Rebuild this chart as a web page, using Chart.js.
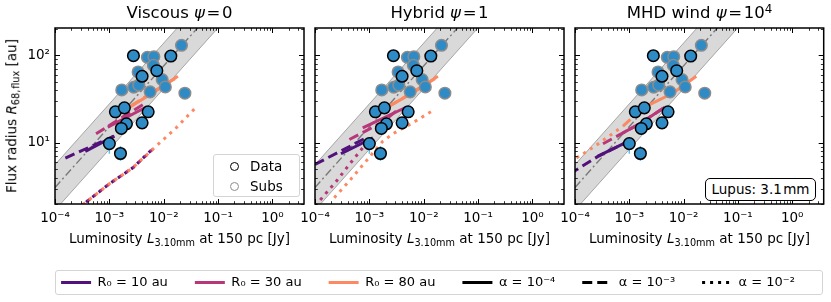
<!DOCTYPE html>
<html><head><meta charset="utf-8">
<script src="https://cdn.jsdelivr.net/npm/chart.js@4.4.1/dist/chart.umd.min.js"></script>
<style>
html,body{margin:0;padding:0;background:#fff;}
#wrap{position:relative;width:831px;height:302px;overflow:hidden;font-family:'DejaVu Sans',sans-serif;color:#000;}
canvas{position:absolute;}
.t{position:absolute;white-space:nowrap;line-height:1;}
.title{font-size:16.5px;top:5px;transform:translateX(-50%);}
.xl{font-size:13.5px;top:232px;transform:translateX(-50%);}
.yl{font-size:13.5px;left:12px;top:116px;transform:translate(-50%,-50%) rotate(-90deg);}
sub{font-size:0.72em;vertical-align:-0.28em;line-height:0;}
sup{font-size:0.72em;vertical-align:0.45em;line-height:0;}
.leg1{position:absolute;left:213px;top:154px;width:87px;height:43px;border:1px solid #d4d4d4;border-radius:3px;background:rgba(255,255,255,0.85);box-sizing:border-box;}
.mk{position:absolute;width:7px;height:7px;border-radius:50%;background:#fff;}
.lt{position:absolute;font-size:13.5px;line-height:1;}
.lupus{position:absolute;left:705px;top:178px;width:111px;height:23px;border:1px solid #000;border-radius:5px;background:#fff;box-sizing:border-box;font-size:13.5px;line-height:21px;text-align:center;}
.leg2{position:absolute;left:55px;top:270px;width:768px;height:25px;border:1px solid #d4d4d4;border-radius:3px;box-sizing:border-box;}
</style></head>
<body><div id="wrap">
<canvas id="p0" width="831" height="262" style="left:0;top:0"></canvas>
<canvas id="p1" width="831" height="262" style="left:0;top:0"></canvas>
<canvas id="p2" width="831" height="262" style="left:0;top:0"></canvas>
<div class="leg2"></div>
<canvas id="lg" width="800" height="80" style="left:28px;top:249px"></canvas>

<div class="t title" style="left:179.5px">Viscous <i>ψ</i>&#8202;=&#8202;0</div>
<div class="t title" style="left:439.5px">Hybrid <i>ψ</i>&#8202;=&#8202;1</div>
<div class="t title" style="left:699.5px">MHD wind <i>ψ</i>&#8202;=&#8202;10<sup>4</sup></div>
<div class="t xl" style="left:179.5px">Luminosity <i>L</i><sub>3.10mm</sub> at 150 pc [Jy]</div>
<div class="t xl" style="left:439.5px">Luminosity <i>L</i><sub>3.10mm</sub> at 150 pc [Jy]</div>
<div class="t xl" style="left:699.5px">Luminosity <i>L</i><sub>3.10mm</sub> at 150 pc [Jy]</div>
<div class="t yl">Flux radius <i>R</i><sub>68,&#8202;flux</sub> [au]</div>

<div class="leg1">
  <div class="mk" style="left:16px;top:7px;border:1.5px solid #000"></div>
  <div class="lt" style="left:36px;top:5px">Data</div>
  <div class="mk" style="left:16px;top:27px;border:1.5px solid #8c8c8c"></div>
  <div class="lt" style="left:36px;top:25px">Subs</div>
</div>
<div class="lupus">Lupus: 3.1&#8202;mm</div>
</div>
<script>
// ---------- data ----------
const xTickVals = [1e-4, 1e-3, 1e-2, 1e-1, 1];
const xTickLabels = ['10⁻⁴', '10⁻³', '10⁻²', '10⁻¹', '10⁰'];
const yTickVals = [10, 100];
const yTickLabels = ['10¹', '10²'];

const dataL = [2.77e-3, 1.35e-2, 7.46e-3, 4.0e-3, 1.29e-3, 1.89e-3, 5.17e-3, 2.06e-3, 1.66e-3, 4.0e-3, 1.0e-3, 1.6e-3];
const dataR = [98.9, 98, 66.7, 57.6, 22.6, 25.1, 22.6, 16.5, 14.6, 16.9, 9.8, 7.55];
const subsL = [1.69e-3, 2.81e-3, 3.38e-3, 5.0e-3, 6.58e-3, 6.46e-3, 5.62e-3, 9.36e-3, 1.07e-2, 2.12e-2, 2.45e-2, 3.48e-3];
const subsR = [40.2, 43.2, 64.5, 94.9, 96.4, 76.9, 38.2, 52.7, 43.5, 130, 36.9, 45.5];
const errL = [1.0e-3, 1.6e-3];
const errLo = [7.5, 6.2];
const errHi = [11.4, 9.2];

const bandL = [1e-4, 1];
const bandMid = [3.09, 1862];
const bandLo = [1.70, 1023];
const bandHi = [5.62, 3388];

// Viscous
const visc_10_a4_L = [3.6e-4, 1.24e-3], visc_10_a4_R = [8.0, 11.9];
const visc_10_a3_L = [1.55e-4, 1.2e-3], visc_10_a3_R = [6.7, 11.9];
const visc_10_a2_L = [2.5e-4, 1e-3, 2.7e-3, 6.75e-3], visc_10_a2_R = [1.73, 3.4, 5.19, 8.93];
const visc_30_a4_L = [9.35e-4, 4.89e-3], visc_30_a4_R = [15.1, 25.8];
const visc_30_a3_L = [5.69e-4, 4.12e-3], visc_30_a3_R = [12.7, 27.3];
const visc_30_a2_L = [2.5e-4, 1e-3, 2.7e-3, 7.24e-3], visc_30_a2_R = [1.73, 3.4, 5.19, 9.17];
const visc_80_a4_L = [2.28e-3, 6.25e-3, 1.82e-2], visc_80_a4_R = [25.1, 37.2, 57.6];
const visc_80_a3_L = [2.5e-3, 6.5e-3, 1.6e-2], visc_80_a3_R = [26.5, 38.5, 54];
const visc_80_a2_L = [2.5e-4, 1e-3, 2.7e-3, 7.24e-3, 1.69e-2, 3.67e-2], visc_80_a2_R = [1.73, 3.4, 5.19, 9.17, 14.8, 24.4];
// Hybrid
const hyb_10_a4_L = [3.0e-4, 1.16e-3], hyb_10_a4_R = [7.5, 11.4];
const hyb_10_a3_L = [1.0e-4, 8.7e-4], hyb_10_a3_R = [5.66, 11.4];
const hyb_30_a4_L = [7.55e-4, 4.74e-3], hyb_30_a4_R = [14.8, 25.5];
const hyb_30_a3_L = [4.29e-4, 1.77e-3, 3.1e-3], hyb_30_a3_R = [10.9, 17.3, 23];
const hyb_30_a2_L = [1.0e-4, 2.43e-4, 4.28e-4, 7.55e-4], hyb_30_a2_R = [1.9, 3.59, 5.66, 8.77];
const hyb_80_a4_L = [2.03e-3, 6.25e-3, 1.82e-2], hyb_80_a4_R = [25.1, 37.2, 57.6];
const hyb_80_a3_L = [2.3e-3, 6.5e-3, 1.6e-2], hyb_80_a3_R = [26, 38.5, 54];
const hyb_80_a2_L = [2.26e-4, 4.28e-4, 8.7e-4, 1.76e-3, 2.7e-3, 6.25e-3, 1.57e-2], hyb_80_a2_R = [2.36, 3.66, 6.18, 10.4, 12.7, 16.9, 24];
// MHD wind
const mhd_10_a4_L = [2.65e-4, 1.02e-3], mhd_10_a4_R = [7.05, 10.6];
const mhd_10_a3_L = [8e-5, 2.65e-4, 1.02e-3], mhd_10_a3_R = [4.4, 7.0, 10.6];
const mhd_30_a4_L = [7.66e-4, 1.55e-3, 4.49e-3], mhd_30_a4_R = [13.0, 16.5, 25.5];
const mhd_30_a3_L = [3.28e-4, 7.66e-4, 1.55e-3, 4.49e-3], mhd_30_a3_R = [9.75, 13.0, 16.5, 25.5];
const mhd_80_a4_L = [1.79e-3, 6.4e-3, 1.71e-2], mhd_80_a4_R = [25.1, 37, 57.6];
const mhd_80_a3_L = [7.66e-4, 1.79e-3], mhd_80_a3_R = [15.5, 25.1];
const mhd_80_a2_L = [8e-5, 1.51e-4, 2.47e-4, 7.66e-4], mhd_80_a2_R = [6.0, 7.7, 9.4, 15.5];

const legendLabels = ['R₀ = 10 au', 'R₀ = 30 au', 'R₀ = 80 au', 'α = 10⁻⁴', 'α = 10⁻³', 'α = 10⁻²'];

// ---------- styles ----------
const C10 = '#51127c', C30 = '#b73779', C80 = '#fc8961';
const BLUE = '#2f8bc6';
const SOLID = [], DASH = [10, 5], DOT = [3, 5];
const LW = 3;

Chart.defaults.font.family = "'DejaVu Sans', sans-serif";
Chart.defaults.font.size = 13;
Chart.defaults.color = '#000';

const pts = (L, R) => L.map((x, i) => ({x, y: R[i]}));

function lineDS(L, R, color, dash, order, offset) {
  return {data: pts(L, R), showLine: true, borderColor: color, borderWidth: LW,
          borderDash: dash, borderDashOffset: offset || 0, borderCapStyle: 'butt',
          pointRadius: 0, fill: false, order: order, tension: 0};
}

const axesPlugin = {
  id: 'mplAxes',
  afterDraw(chart) {
    const {ctx, chartArea: a} = chart;
    const x = chart.scales.x, y = chart.scales.y;
    ctx.save();
    ctx.strokeStyle = '#000';
    for (let k = -5; k <= 1; k++) for (let m = 1; m <= 9; m++) {
      const v = m * Math.pow(10, k);
      if (v < x.min * 0.999 || v > x.max * 1.001) continue;
      const p = Math.round(x.getPixelForValue(v)) + 0.5;
      const len = m === 1 ? 5 : 2.8;
      ctx.lineWidth = m === 1 ? 1 : 0.8;
      ctx.beginPath();
      ctx.moveTo(p, a.bottom); ctx.lineTo(p, a.bottom - len);
      ctx.moveTo(p, a.top); ctx.lineTo(p, a.top + len);
      ctx.stroke();
    }
    for (let k = -1; k <= 3; k++) for (let m = 1; m <= 9; m++) {
      const v = m * Math.pow(10, k);
      if (v < y.min * 0.999 || v > y.max * 1.001) continue;
      const p = Math.round(y.getPixelForValue(v)) + 0.5;
      const len = m === 1 ? 5 : 2.8;
      ctx.lineWidth = m === 1 ? 1 : 0.8;
      ctx.beginPath();
      ctx.moveTo(a.left, p); ctx.lineTo(a.left + len, p);
      ctx.moveTo(a.right, p); ctx.lineTo(a.right - len, p);
      ctx.stroke();
    }
    ctx.lineWidth = 1.5;
    ctx.strokeRect(a.left, a.top, a.right - a.left, a.bottom - a.top);
    ctx.restore();
  }
};

function makePanel(id, left, right, showY, lines) {
  const ds = [];
  ds.push({label: 'Data', data: pts(dataL, dataR), backgroundColor: BLUE, borderColor: '#000', borderWidth: 1.5, pointRadius: 5.8, order: 0});
  ds.push({label: 'Subs', data: pts(subsL, subsR), backgroundColor: BLUE, borderColor: '#8c8c8c', borderWidth: 1.5, pointRadius: 5.8, order: 1});
  errL.forEach((xv, i) => ds.push({data: [{x: xv, y: errLo[i]}, {x: xv, y: errHi[i]}], showLine: true,
    borderColor: '#5cbde9', borderWidth: 1.5, pointRadius: 0, order: 2}));
  lines.forEach(l => ds.push(l));
  ds.push({data: pts(bandL, bandMid), showLine: true, borderColor: '#7a7a7a', borderWidth: 1.4,
    borderDash: [8, 3, 2, 3], pointRadius: 0, order: 20});
  const loIdx = ds.length;
  ds.push({data: pts(bandL, bandLo), showLine: true, borderColor: '#a5a5a5', borderWidth: 1, pointRadius: 0, order: 21, fill: false});
  ds.push({data: pts(bandL, bandHi), showLine: true, borderColor: '#a5a5a5', borderWidth: 1, pointRadius: 0, order: 22,
    fill: loIdx, backgroundColor: 'rgba(128,128,128,0.3)'});
  const YW = 45;
  return new Chart(document.getElementById(id), {
    type: 'scatter',
    data: {datasets: ds},
    options: {
      responsive: false, animation: false, devicePixelRatio: 1,
      layout: {padding: {left: left - YW, right: 831 - right, top: 28, bottom: 36}},
      plugins: {legend: {display: false}, tooltip: {enabled: false}},
      scales: {
        x: {type: 'logarithmic', min: 1e-4, max: 3.8,
            grid: {display: false, drawTicks: false}, border: {display: false},
            afterBuildTicks: s => { s.ticks = xTickVals.map(v => ({value: v})); },
            afterFit: s => { s.height = 22; },
            ticks: {autoSkip: false, maxRotation: 0, minRotation: 0, padding: 6, font: {size: 13.5},
                    callback: v => { const i = xTickVals.indexOf(v); return i >= 0 ? xTickLabels[i] : ''; }}},
        y: {type: 'logarithmic', min: 2, max: 205,
            grid: {display: false, drawTicks: false}, border: {display: false},
            afterBuildTicks: s => { s.ticks = yTickVals.map(v => ({value: v})); },
            afterFit: s => { s.width = YW; },
            ticks: {display: showY, autoSkip: false, padding: 5, font: {size: 13.5},
                    callback: v => { const i = yTickVals.indexOf(v); return i >= 0 ? yTickLabels[i] : ''; }}}
      }
    },
    plugins: [axesPlugin]
  });
}

makePanel('p0', 55, 304, true, [
  lineDS(visc_80_a4_L, visc_80_a4_R, C80, SOLID, 3),
  lineDS(visc_80_a3_L, visc_80_a3_R, C80, DASH, 3),
  lineDS(visc_80_a2_L, visc_80_a2_R, C80, DOT, 3, 0),
  lineDS(visc_30_a4_L, visc_30_a4_R, C30, SOLID, 4),
  lineDS(visc_30_a3_L, visc_30_a3_R, C30, DASH, 4),
  lineDS(visc_30_a2_L, visc_30_a2_R, C30, DOT, 4, 2),
  lineDS(visc_10_a4_L, visc_10_a4_R, C10, SOLID, 5),
  lineDS(visc_10_a3_L, visc_10_a3_R, C10, DASH, 5),
  lineDS(visc_10_a2_L, visc_10_a2_R, C10, DOT, 5, 4)
]);
makePanel('p1', 315, 564, false, [
  lineDS(hyb_80_a4_L, hyb_80_a4_R, C80, SOLID, 3),
  lineDS(hyb_80_a3_L, hyb_80_a3_R, C80, DASH, 3),
  lineDS(hyb_80_a2_L, hyb_80_a2_R, C80, DOT, 3),
  lineDS(hyb_30_a4_L, hyb_30_a4_R, C30, SOLID, 4),
  lineDS(hyb_30_a3_L, hyb_30_a3_R, C30, DASH, 4),
  lineDS(hyb_30_a2_L, hyb_30_a2_R, C30, DOT, 4),
  lineDS(hyb_10_a4_L, hyb_10_a4_R, C10, SOLID, 5),
  lineDS(hyb_10_a3_L, hyb_10_a3_R, C10, DASH, 5)
]);
makePanel('p2', 575, 824, false, [
  lineDS(mhd_80_a4_L, mhd_80_a4_R, C80, SOLID, 3),
  lineDS(mhd_80_a3_L, mhd_80_a3_R, C80, DASH, 3),
  lineDS(mhd_80_a2_L, mhd_80_a2_R, C80, DOT, 3),
  lineDS(mhd_30_a4_L, mhd_30_a4_R, C30, SOLID, 4),
  lineDS(mhd_30_a3_L, mhd_30_a3_R, C30, DASH, 4),
  lineDS(mhd_10_a4_L, mhd_10_a4_R, C10, SOLID, 5),
  lineDS(mhd_10_a3_L, mhd_10_a3_R, C10, DASH, 5)
]);

// ---------- figure legend ----------
const legColors = [C10, C30, C80, '#000', '#000', '#000'];
const legDash = [SOLID, SOLID, SOLID, SOLID, DASH, DOT];
new Chart(document.getElementById('lg'), {
  type: 'line',
  data: {datasets: legendLabels.map((lab, i) => ({label: lab, data: [], borderColor: legColors[i],
    backgroundColor: legColors[i], borderWidth: 3, borderDash: legDash[i], borderCapStyle: 'butt'}))},
  options: {
    responsive: false, animation: false, devicePixelRatio: 1,
    scales: {x: {display: false}, y: {display: false}},
    plugins: {tooltip: {enabled: false},
      legend: {display: true, position: 'top', align: 'center',
        labels: {usePointStyle: true, pointStyle: 'line', pointStyleWidth: 30, padding: 27,
                 font: {size: 13}, color: '#000',
                 generateLabels: chart => Chart.defaults.plugins.legend.labels.generateLabels(chart).map((it, i) => Object.assign(it, {
                   lineDash: legDash[i], lineWidth: 3, strokeStyle: legColors[i], fillStyle: legColors[i], lineCap: 'butt', pointStyle: 'line'}))}}}
  }
});
</script>
</body></html>
